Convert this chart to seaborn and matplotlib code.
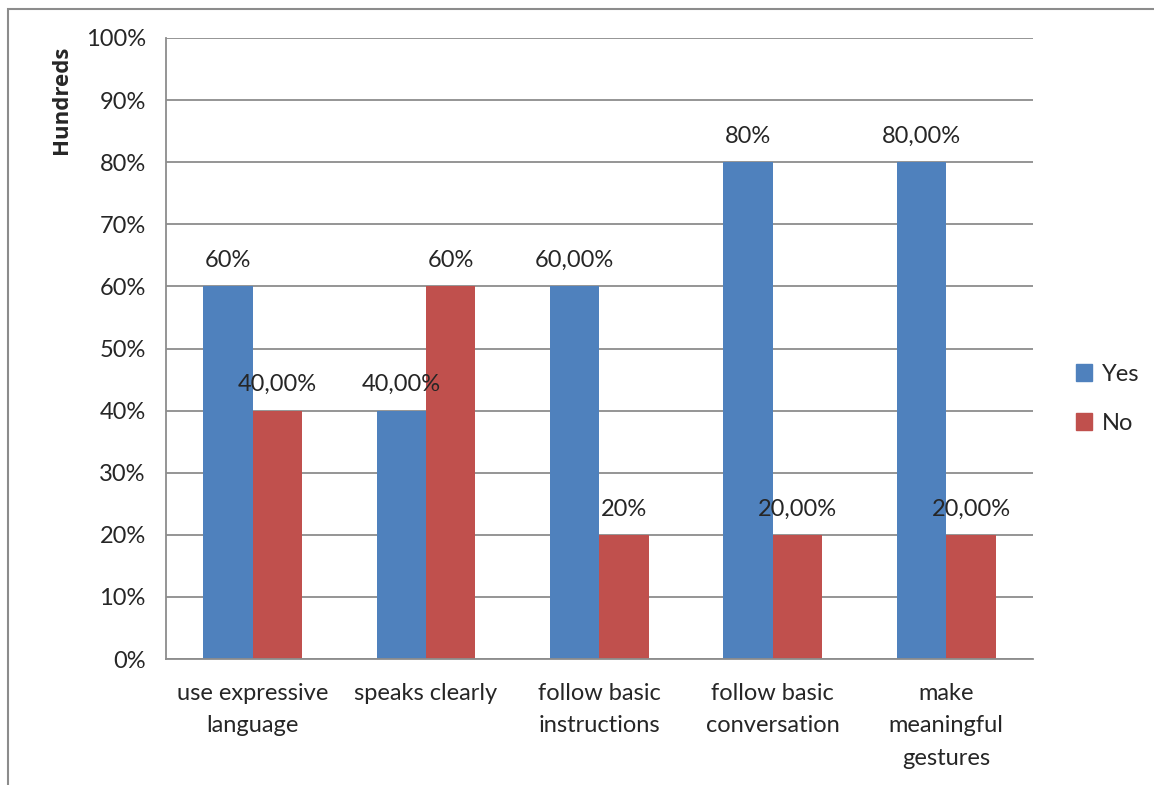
import matplotlib
matplotlib.use("Agg")
import matplotlib.pyplot as plt
import matplotlib.patches as mpatches
import numpy as np
import pandas as pd
import seaborn as sns

categories = ["use expressive\nlanguage", "speaks clearly", "follow basic\ninstructions",
              "follow basic\nconversation", "make\nmeaningful\ngestures"]
yes_values = [60, 40, 60, 80, 80]
no_values = [40, 60, 20, 20, 20]
yes_labels = ["60%", "40,00%", "60,00%", "80%", "80,00%"]
no_labels = ["40,00%", "60%", "20%", "20,00%", "20,00%"]
series = ["Yes", "No"]
colors = {"Yes": "#4F81BD", "No": "#C0504D"}
y_ticks = [0, 10, 20, 30, 40, 50, 60, 70, 80, 90, 100]

df = pd.DataFrame({
    "category": categories * 2,
    "series": ["Yes"] * len(categories) + ["No"] * len(categories),
    "value": yes_values + no_values,
})

sns.set_theme(style="white")
plt.rcParams["font.family"] = ["Lato", "DejaVu Sans"]
FS = 17

fig = plt.figure(figsize=(11.54, 7.85), dpi=100)
ax = fig.add_axes([0.1438, 0.1605, 0.8951 - 0.1438, 0.9516 - 0.1605])

sns.barplot(data=df, x="category", y="value", hue="series", hue_order=series,
            palette=colors, width=0.57, gap=0, saturation=1, ax=ax,
            errorbar=None, legend=True, linewidth=0)

ax.set_xlim(-0.5, len(categories) - 0.5)
ax.set_ylim(0, 100)
ax.set_yticks(y_ticks)
ax.set_yticklabels([f"{t}%" for t in y_ticks], fontsize=FS)
ax.yaxis.grid(True, color="#8c8c8c", linewidth=1.3)
ax.set_axisbelow(True)

ax.set_xticks(range(len(categories)))
ax.set_xticklabels(categories, fontsize=FS, linespacing=1.68, va="top")
ax.tick_params(axis="x", which="major", length=0, pad=17)
ax.set_xticks(np.arange(-0.5, len(categories), 1.0), minor=True)
ax.tick_params(axis="x", which="minor", length=5.5, width=1.3, color="#8c8c8c", direction="out")
ax.tick_params(axis="y", length=5.5, width=1.3, color="#8c8c8c", direction="out", pad=9)

for side in ["top", "right"]:
    ax.spines[side].set_visible(False)
for side in ["left", "bottom"]:
    ax.spines[side].set_color("#8c8c8c")
    ax.spines[side].set_linewidth(1.3)

ax.set_xlabel("")
ax.set_ylabel("Hundreds", fontsize=16, fontweight="bold",
              family=["Open Sans", "DejaVu Sans"])
ax.yaxis.set_label_coords(-0.108, 0.90)

# value labels above each bar
for container, labels in zip(ax.containers, [yes_labels, no_labels]):
    ax.bar_label(container, labels=labels, padding=11, fontsize=FS)

handles = [mpatches.Patch(color=colors[s]) for s in series]
ax.legend(handles, series, loc="center left", bbox_to_anchor=(1.025, 0.419),
          frameon=False, fontsize=FS, handlelength=0.7, handleheight=0.7,
          handletextpad=0.4, labelspacing=1.2)

# outer chart frame
fig.patches.append(mpatches.Rectangle((8 / 1154, -0.1), 1.2, 1 - 9 / 785 + 0.1,
                                      transform=fig.transFigure, fill=False,
                                      edgecolor="#8c8c8c", linewidth=1.5))

fig.savefig("out.png", dpi=100)
